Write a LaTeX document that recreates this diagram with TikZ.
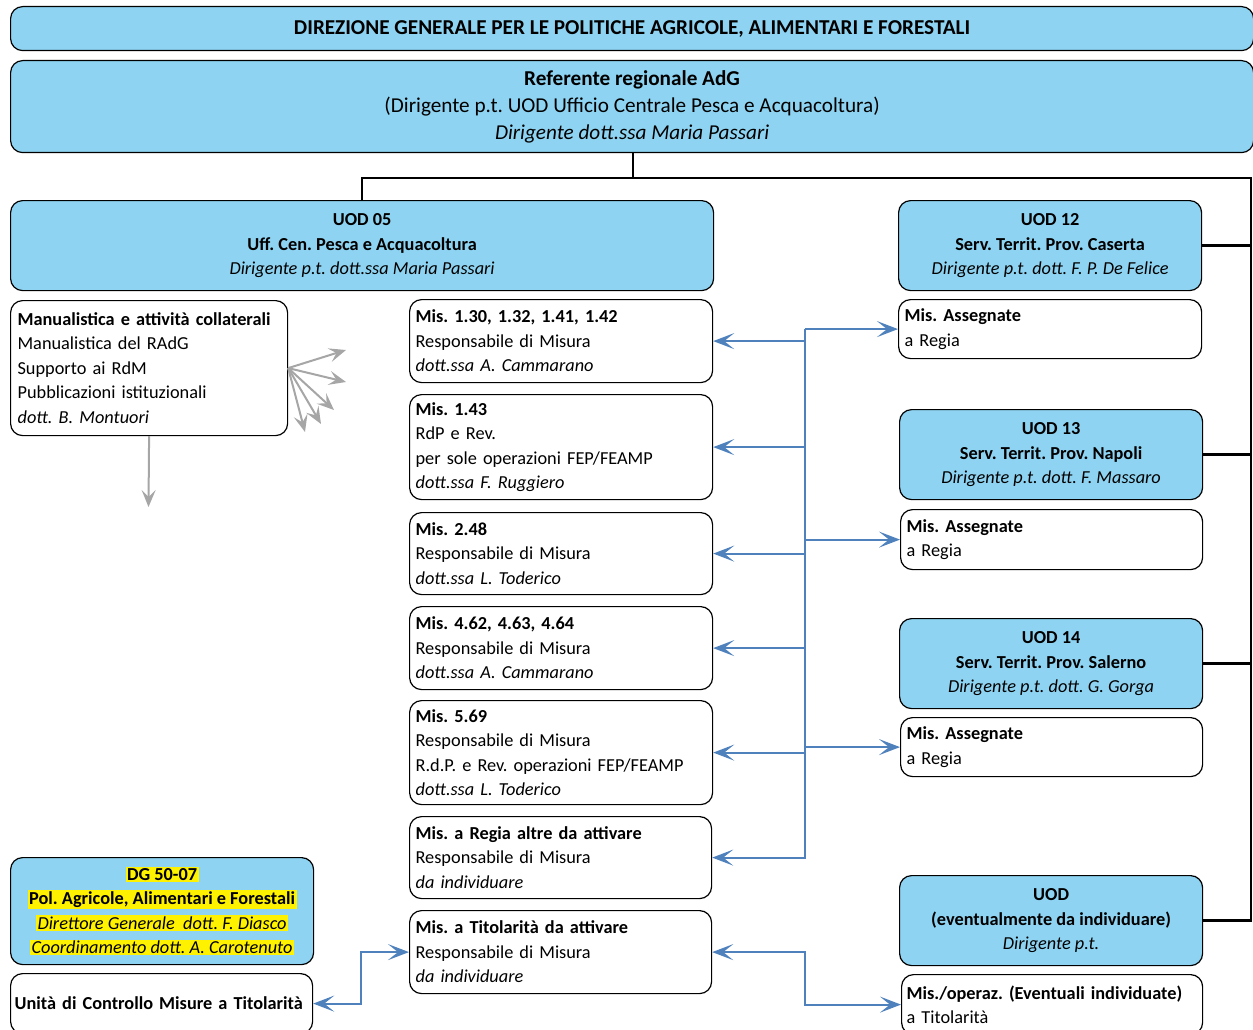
\documentclass[tikz,border=0pt]{standalone}
\usepackage{fontspec}
\setmainfont{Carlito}
\usetikzlibrary{arrows.meta}

\definecolor{celeste}{RGB}{142,212,242}
\definecolor{bluart}{RGB}{79,129,189}
\definecolor{grigio}{RGB}{166,166,166}
\newcommand{\evid}[1]{{\setlength{\fboxsep}{1.5pt}\colorbox{yellow}{#1}}}

\tikzset{
  casella/.style={draw, line width=1.2pt, rounded corners=12pt, anchor=north west,
    inner xsep=6pt, inner ysep=0pt, font=\fontsize{18.3}{24.5}\selectfont\frenchspacing},
  azzurra/.style={casella, fill=celeste, align=center},
  bianca/.style={casella, fill=white, align=left},
  nero/.style={line width=2.4pt},
  freccia/.style={line width=2.2pt, draw=bluart, -{Stealth[length=21pt,width=16pt,inset=10pt]}},
  doppia/.style={freccia, {Stealth[length=21pt,width=16pt,inset=10pt]}-{Stealth[length=21pt,width=16pt,inset=10pt]}},
  grigia/.style={line width=2pt, draw=grigio, -{Stealth[length=17pt,width=14pt,inset=7pt]}},
}

\begin{document}
\begin{tikzpicture}[x=1pt,y=-1pt]
  \clip (0,0) rectangle (1253,1030);

  % testata
  \node[azzurra, minimum width=1243, minimum height=44,
        font=\fontsize{21.2}{27}\selectfont\frenchspacing] (dir) at (10,6)
    {\textbf{DIREZIONE GENERALE PER LE POLITICHE AGRICOLE, ALIMENTARI E FORESTALI}};
  \node[azzurra, minimum width=1243, minimum height=92,
        font=\fontsize{21.2}{27}\selectfont\frenchspacing] (ref) at (10,60)
    {\textbf{Referente regionale AdG}\\(Dirigente p.t. UOD Ufficio Centrale Pesca e Acquacoltura)\\\textit{Dirigente dott.ssa Maria Passari}};

  % colonna sinistra
  \node[azzurra, minimum width=703, minimum height=90] (uod05) at (10,200)
    {\textbf{UOD 05}\\\textbf{Uff. Cen. Pesca e Acquacoltura}\\\textit{Dirigente p.t. dott.ssa Maria Passari}};
  \node[bianca, minimum width=277, minimum height=135, text width=263, inner xsep=7pt] (man) at (10,300)
    {\textbf{Manualistica e attività collaterali}\\Manualistica del RAdG\\Supporto ai RdM\\Pubblicazioni istituzionali\\\textit{dott. B. Montuori}};
  \node[azzurra, minimum width=303, minimum height=107] (dg) at (10,857)
    {\evid{\textbf{DG 50-07}}\\\evid{\textbf{Pol. Agricole, Alimentari e Forestali}}\\\evid{\textit{Direttore Generale\ \ dott. F. Diasco}}\\\evid{\textit{Coordinamento dott. A. Carotenuto}}};
  \node[bianca, minimum width=302, minimum height=60, text width=294, inner xsep=4pt] (unita) at (10,973)
    {\textbf{Unità di Controllo Misure a Titolarità}};

  % colonna centrale: misure
  \node[bianca, minimum width=303, minimum height=83, text width=291] (m130) at (409,299)
    {\textbf{Mis. 1.30, 1.32, 1.41, 1.42}\\Responsabile di Misura\\\textit{dott.ssa A. Cammarano}};
  \node[bianca, minimum width=303, minimum height=105, text width=291] (m143) at (409,394)
    {\textbf{Mis. 1.43}\\RdP e Rev.\\per sole operazioni FEP/FEAMP\\\textit{dott.ssa F. Ruggiero}};
  \node[bianca, minimum width=303, minimum height=82, text width=291] (m248) at (409,512)
    {\textbf{Mis. 2.48}\\Responsabile di Misura\\\textit{dott.ssa L. Toderico}};
  \node[bianca, minimum width=303, minimum height=83, text width=291] (m462) at (409,606)
    {\textbf{Mis. 4.62, 4.63, 4.64}\\Responsabile di Misura\\\textit{dott.ssa A. Cammarano}};
  \node[bianca, minimum width=303, minimum height=104, text width=291] (m569) at (409,700)
    {\textbf{Mis. 5.69}\\Responsabile di Misura\\R.d.P. e Rev. operazioni FEP/FEAMP\\\textit{dott.ssa L. Toderico}};
  \node[bianca, minimum width=302, minimum height=82, text width=290] (altre) at (409,816)
    {\textbf{Mis. a Regia altre da attivare}\\Responsabile di Misura\\\textit{da individuare}};
  \node[bianca, minimum width=302, minimum height=83, text width=290] (tit) at (409,910)
    {\textbf{Mis. a Titolarità da attivare}\\Responsabile di Misura\\\textit{da individuare}};

  % colonna destra: UOD territoriali
  \node[azzurra, minimum width=303, minimum height=90] (uod12) at (898,200)
    {\textbf{UOD 12}\\\textbf{Serv. Territ. Prov. Caserta}\\\textit{Dirigente p.t. dott. F. P. De Felice}};
  \node[bianca, minimum width=303, minimum height=59, text width=291] (ass1) at (898,299)
    {\textbf{Mis. Assegnate}\\a Regia};
  \node[azzurra, minimum width=303, minimum height=90] (uod13) at (899,409)
    {\textbf{UOD 13}\\\textbf{Serv. Territ. Prov. Napoli}\\\textit{Dirigente p.t. dott. F. Massaro}};
  \node[bianca, minimum width=302, minimum height=60, text width=290] (ass2) at (900,509)
    {\textbf{Mis. Assegnate}\\a Regia};
  \node[azzurra, minimum width=303, minimum height=90] (uod14) at (899,618)
    {\textbf{UOD 14}\\\textbf{Serv. Territ. Prov. Salerno}\\\textit{Dirigente p.t. dott. G. Gorga}};
  \node[bianca, minimum width=302, minimum height=59, text width=290] (ass3) at (900,717)
    {\textbf{Mis. Assegnate}\\a Regia};
  \node[azzurra, minimum width=303, minimum height=90] (uodx) at (899,875)
    {\textbf{UOD}\\\textbf{(eventualmente da individuare)}\\\textit{Dirigente p.t.}};
  \node[bianca, minimum width=301, minimum height=60, text width=291, inner xsep=5pt] (misop) at (901,974)
    {\textbf{Mis./operaz. (Eventuali individuate)}\\a Titolarità};

  % linee gerarchiche
  \coordinate (snodo) at (633,178);
  \coordinate (dorsale) at (1251,178);
  \draw[nero] (ref.south -| snodo) -- (snodo) -| (uod05.north);
  \draw[nero] (snodo) -- (dorsale) |- (uodx.east);
  \foreach \u in {uod12,uod13,uod14}
    \draw[nero] (\u.east) -- (\u.east -| dorsale);

  % collegamenti misure
  \coordinate (bx) at (805,0);
  \coordinate (sx) at (361,0);
  \draw[freccia] (ass1.west -| bx) |- (altre.east);
  \draw[freccia] (ass1.west -| bx) -- (ass1.west);
  \foreach \m in {m130,m143,m248,m462,m569}
    \draw[freccia] (\m.east -| bx) -- (\m.east);
  \foreach \a in {ass2,ass3}
    \draw[freccia] (\a.west -| bx) -- (\a.west);
  \draw[doppia] (tit.east) -- (tit.east -| bx) |- (misop.west);
  \draw[doppia] (unita.east) -- (unita.east -| sx) |- (tit.west);

  % frecce grigie
  \foreach \x/\y [count=\i] in {346/350,346/382,334/410,321/424,305/432}{
    \coordinate (v\i) at (\x,\y);
    \draw[grigia] (man.east) -- (v\i);
  }
  \coordinate (giu) at (148.5,507);
  \draw[grigia] (man.south) -- (giu);
\end{tikzpicture}
\end{document}
